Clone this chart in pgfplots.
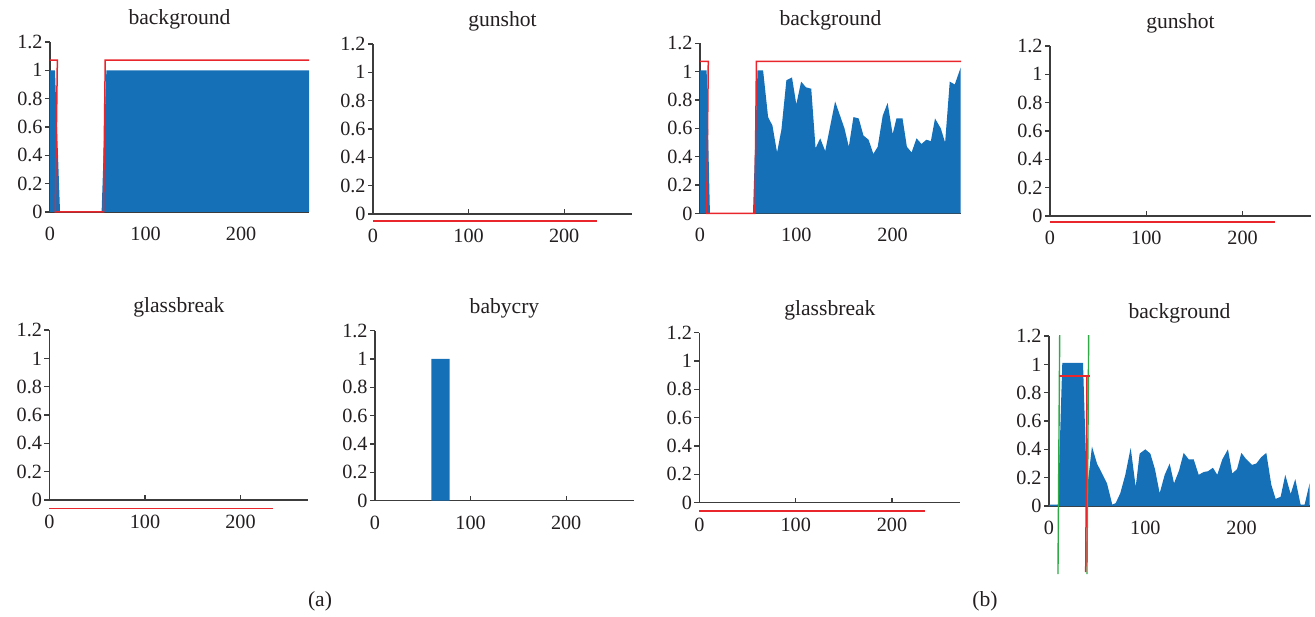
\documentclass[border=0pt]{standalone}
\usepackage{fontspec}
\setmainfont{Liberation Serif}
\usepackage{pgfplots}
\pgfplotsset{compat=1.18}
\definecolor{barblue}{RGB}{21,112,184}
\definecolor{linered}{RGB}{232,38,44}
\definecolor{linegreen}{RGB}{46,170,70}
\definecolor{axisgray}{RGB}{60,60,60}
\definecolor{txt}{RGB}{35,31,32}
\pgfplotsset{
  pan/.style={
    scale only axis, height=85pt,
    xmin=0, xmax=271, ymin=0, ymax=1.2,
    axis x line=bottom, axis y line=left,
    axis line style={-, draw=axisgray, line width=0.75pt},
    xtick={0,100,200}, xticklabels={0,100,200},
    ytick={0,0.2,0.4,0.6,0.8,1,1.2},
    yticklabels={0,0.2,0.4,0.6,0.8,1,1.2},
    tick align=outside, major tick length=2.5pt,
    tick style={draw=axisgray, line width=0.6pt},
    x tick style={yshift=2.5pt},
    tick label style={font=\fontsize{10.1}{12}\selectfont, text=txt},
    yticklabel style={xshift=2.3pt},
    xticklabel style={yshift=-1.5pt},
    title style={at={(0.5,1)}, anchor=base, yshift=2.8pt, font=\fontsize{10.8}{12}\selectfont, text=txt},
    clip=false, anchor=south west,
  },
  area/.style={fill=barblue, draw=none},
  red/.style={draw=linered, line width=0.75pt},
  green/.style={draw=linegreen, line width=0.7pt},
}
\begin{document}
\begin{tikzpicture}
\useasboundingbox (0,0) rectangle (657.5pt,308pt);
% ---------- row 1 ----------
\begin{axis}[pan, width=129.5pt, at={(25pt,202pt)}, title={background}]
\addplot[area] coordinates {(0,1)(5.2,1)(10.5,0)(54,0)(59,1)(271,1)} \closedcycle;
\addplot[red] coordinates {(0,1.072)(7.7,1.072)(5.5,0)(56,0)(57.8,1.072)(271,1.072)};
\end{axis}
\begin{axis}[pan, width=129.5pt, at={(186.5pt,201pt)}, title={gunshot}]
\addplot[red] coordinates {(0,-0.049)(234,-0.049)};
\end{axis}
\begin{axis}[pan, width=130.5pt, at={(350pt,201.3pt)}, title={background}]
\addplot[area] coordinates {
(0,1.01)(6.9,1.01)(10.3,0)(55,0)(59.7,1.01)(65.5,1.01)(70.7,0.68)(75.2,0.62)
(80,0.43)(84.5,0.59)(89.7,0.94)(95.5,0.96)(100,0.77)(105,0.93)(110,0.89)
(115.5,0.88)(120,0.46)(124.8,0.53)(130,0.44)(140.3,0.79)(150,0.60)(154.5,0.47)
(159.3,0.68)(164.8,0.67)(169.7,0.55)(175,0.52)(180,0.42)(184.5,0.47)(189.7,0.69)
(194.8,0.78)(200,0.56)(204,0.67)(210.3,0.67)(214.8,0.47)(219.7,0.43)(224.8,0.53)
(230,0.49)(235,0.52)(239.7,0.51)(244,0.67)(250,0.60)(254.5,0.50)(259.3,0.93)
(264.5,0.91)(270.7,1.03)} \closedcycle;
\addplot[red] coordinates {(0,1.073)(8.6,1.073)(6.9,0)(57,0)(58.6,1.073)(271,1.073)};
\end{axis}
\begin{axis}[pan, width=130.5pt, at={(525pt,200pt)}, title={gunshot}]
\addplot[red] coordinates {(0,-0.042)(234,-0.042)};
\end{axis}
% ---------- row 2 ----------
\begin{axis}[pan, width=129.5pt, at={(24.7pt,58pt)}, title={glassbreak}]
\addplot[red] coordinates {(0,-0.06)(234,-0.06)};
\end{axis}
\begin{axis}[pan, width=129.5pt, at={(187.5pt,57.7pt)}, title={babycry}]
\addplot[area] coordinates {(59,0)(59,1)(78,1)(78,0)} \closedcycle;
\end{axis}
\begin{axis}[pan, width=130.5pt, at={(349.7pt,56.7pt)}, title={glassbreak}]
\addplot[red] coordinates {(0,-0.06)(234.6,-0.06)};
\end{axis}
\begin{axis}[pan, width=130.5pt, at={(524.5pt,55pt)}, title={background}]
\addplot[area] coordinates {
(0,0.01)(9.3,0.01)(13.8,1.01)(35.3,1.01)(39.4,0.11)(44.6,0.42)(49.8,0.30)
(60.2,0.16)(65.7,0.01)(69.2,0.02)(74,0.09)(79.2,0.22)(84.8,0.41)(90,0.135)
(94.1,0.37)(100,0.40)(105.2,0.37)(110,0.26)(114.9,0.09)(120.1,0.22)(125.3,0.30)
(129.8,0.16)(135,0.25)(139.8,0.375)(145,0.33)(150.2,0.33)(155.4,0.22)(160.6,0.24)
(165,0.245)(170.2,0.27)(174.7,0.22)(180,0.33)(185.8,0.40)(190.3,0.23)(195.2,0.26)
(199.7,0.375)(204.8,0.33)(210.7,0.29)(215.2,0.30)(220.4,0.345)(225.6,0.375)
(230.8,0.15)(235.3,0.05)(240.5,0.065)(245.3,0.22)(250.9,0.085)(255.7,0.19)
(261.2,0.01)(265.4,0.01)(270.6,0.16)} \closedcycle;
\addplot[green] coordinates {(11.1,1.207)(9.3,-0.48)};
\addplot[green] coordinates {(41.2,1.207)(39.4,-0.48)};
\addplot[red] coordinates {(10.4,0.916)(42.9,0.916)};
\addplot[red] coordinates {(39.4,0.916)(38.1,-0.466)};
\end{axis}
\node[font=\fontsize{10.8}{12}\selectfont, text=txt] at (160pt,7.5pt) {(a)};
\node[font=\fontsize{10.8}{12}\selectfont, text=txt] at (492.5pt,7.5pt) {(b)};
\end{tikzpicture}
\end{document}
